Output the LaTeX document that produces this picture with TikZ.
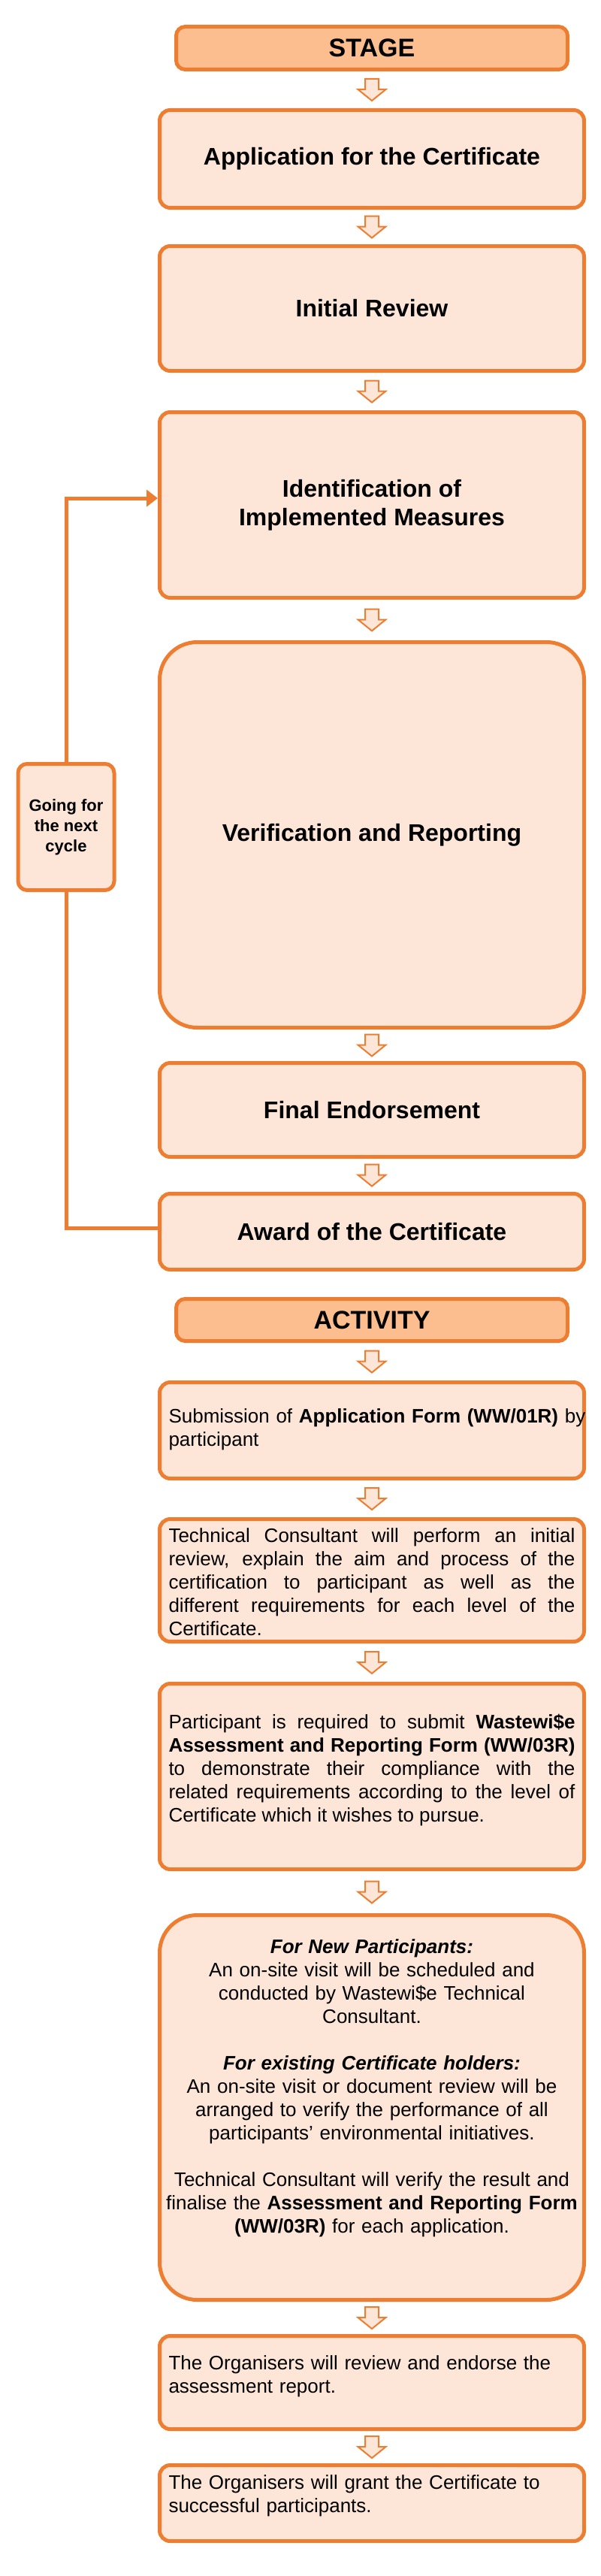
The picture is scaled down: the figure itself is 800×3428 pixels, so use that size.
\documentclass[tikz,border=0pt]{standalone}
\usepackage{fontspec}
\setmainfont{Liberation Sans}
\usetikzlibrary{arrows.meta,calc}
\definecolor{ww}{HTML}{ED7D31}
\definecolor{wwfill}{HTML}{FDE6D7}
\definecolor{wwhead}{HTML}{FCBE8E}
\hyphenpenalty=10000
\exhyphenpenalty=10000
\tikzset{
  box/.style={draw=ww, fill=wwfill, line width=5pt, rounded corners=14pt, minimum width=565pt, inner sep=0pt, align=center},
  headbox/.style={box, fill=wwhead, rounded corners=12pt, minimum width=521pt, font=\fontsize{34}{40}\selectfont\bfseries},
  stagetxt/.style={font=\fontsize{32}{38}\selectfont\bfseries},
  bigbox/.style={box, rounded corners=50pt},
  acttxt/.style={text width=541pt, font=\fontsize{26}{31}\selectfont, inner sep=0pt},
  fbline/.style={draw=ww, line width=5pt, line join=miter},
  blkarrow/.pic={\draw[draw=ww, fill=wwfill, line width=2pt, line join=miter]
     (-9,-14.5) -- (9,-14.5) -- (9,-0.5) -- (18.5,-0.5) -- (0,14.5) -- (-18.5,-0.5) -- (-9,-0.5) -- cycle;}
}
\begin{document}
\begin{tikzpicture}[x=1pt,y=-1pt]
\useasboundingbox (0,0) rectangle (800,3428);
% ---------- STAGE ----------
\node[headbox, minimum height=57pt] (stage) at (495,64) {STAGE};
\node[box, minimum height=130pt, stagetxt] (app) at (495,211.5) {Application for the Certificate};
\node[box, minimum height=166pt, stagetxt] (ir) at (495,410.5) {Initial Review};
\node[box, minimum height=247pt, stagetxt] (ident) at (495,672) {Identification of\\Implemented Measures};
\node[bigbox, minimum height=513pt, stagetxt] (verif) at (495,1111) {Verification and Reporting};
\node[box, minimum height=125pt, stagetxt] (final) at (495,1477) {Final Endorsement};
\node[box, minimum height=101pt, stagetxt] (award) at (495,1639) {Award of the Certificate};
\node[box, rounded corners=12pt, minimum width=128pt, minimum height=168pt, font=\fontsize{22}{27}\selectfont\bfseries] (going) at (88,1100.5) {Going for\\the next\\cycle};
\draw[fbline] ([yshift=5pt]award.west) -| (going.south);
\draw[fbline, -{Triangle[length=15pt,width=22pt]}] (going.north) |- ([yshift=9pt]ident.west);
% ---------- ACTIVITY ----------
\node[headbox, minimum height=56pt] (act) at (495,1756.5) {ACTIVITY};
\node[box, minimum height=128pt] (sub) at (495,1903.5) {};
\node[acttxt, text width=560pt, align=left] (subtxt) at (504.5,1902) {Submission of \textbf{Application Form (WW/01R)} by\\participant};
\node[box, minimum height=163pt] (tech) at (495,2103) {};
\node[acttxt, align=justify] (techtxt) at (495,2105) {Technical Consultant will perform an initial\linebreak review, explain the aim and process of the\linebreak certification to participant as well as the\linebreak different requirements for each level of the\linebreak Certificate.};
\node[box, minimum height=247pt] (part) at (495,2364) {};
\node[acttxt, align=justify] (parttxt) at (495,2356) {Participant is required to submit \textbf{Wastewi\$e}\linebreak \textbf{Assessment and Reporting Form (WW/03R)}\linebreak to demonstrate their compliance with the\linebreak related requirements according to the level of\linebreak Certificate which it wishes to pursue.};
\node[bigbox, minimum height=512pt] (vera) at (495,2804.5) {};
\node[acttxt, text width=560pt, align=center] (veratxt) at (495,2779) {\textbf{\textit{For New Participants:}}\\ An on-site visit will be scheduled and\\ conducted by Wastewi\$e Technical\\ Consultant.\\[31pt] \textbf{\textit{For existing Certificate holders:}}\\ An on-site visit or document review will be\\ arranged to verify the performance of all\\ participants’ environmental initiatives.\\[31pt] Technical Consultant will verify the result and\\ finalise the \textbf{Assessment and Reporting Form}\\ \textbf{(WW/03R)} for each application.};
\node[box, minimum height=124pt] (orgr) at (495,3170.5) {};
\node[acttxt, align=left] (orgrtxt) at (495,3162) {The Organisers will review and endorse the\\assessment report.};
\node[box, minimum height=101pt] (grant) at (495,3331) {};
\node[acttxt, align=left] (granttxt) at (495,3321) {The Organisers will grant the Certificate to\\successful participants.};
% ---------- block arrows ----------
\foreach \a/\b in {stage/app, app/ir, ir/ident, ident/verif, verif/final, final/award, act/sub, sub/tech, tech/part, part/vera, vera/orgr, orgr/grant}
  \pic at ($(\a.south)!0.5!(\b.north)$) {blkarrow};
\end{tikzpicture}
\end{document}
